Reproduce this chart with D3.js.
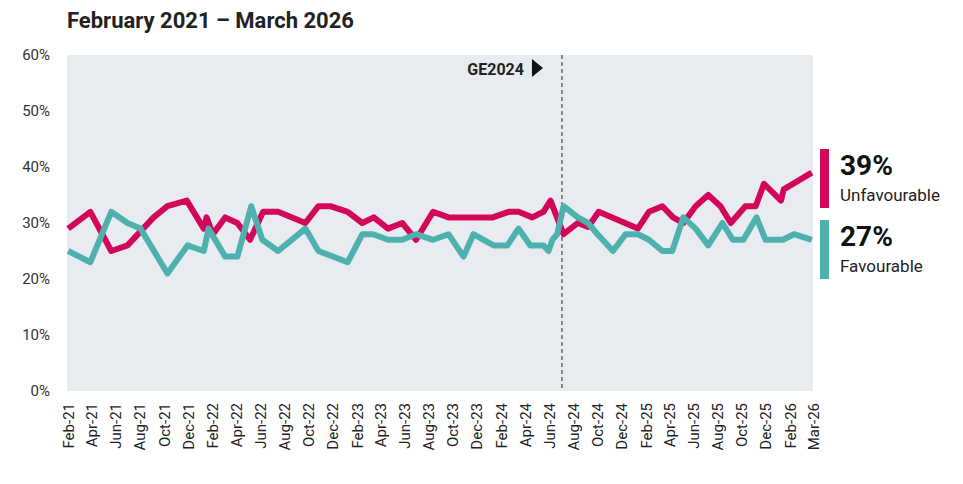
<!DOCTYPE html>
<html>
<head>
<meta charset="utf-8">
<script src="https://cdn.jsdelivr.net/npm/d3@7"></script>
<style>
  body { margin: 0; background: #fff; }
  svg { display: block; font-family: Roboto, "Noto Sans", sans-serif; }
</style>
</head>
<body>
<div id="chart"></div>
<script>
const title = "February 2021 – March 2026"

// poll date, % unfavourable
const unfavourable = [
  ["2021-02-01", 29], ["2021-03-29", 32], ["2021-05-21", 25], ["2021-07-01", 26],
  ["2021-09-05", 31], ["2021-10-10", 33], ["2021-11-28", 34], ["2022-01-10", 29],
  ["2022-01-17", 31], ["2022-02-02", 28], ["2022-03-05", 31], ["2022-04-05", 30],
  ["2022-05-07", 27], ["2022-06-09", 32], ["2022-07-17", 32], ["2022-09-24", 30],
  ["2022-10-27", 33], ["2022-11-26", 33], ["2023-01-09", 32], ["2023-02-15", 30],
  ["2023-03-16", 31], ["2023-04-21", 29], ["2023-05-27", 30], ["2023-07-01", 27],
  ["2023-08-13", 32], ["2023-09-21", 31], ["2024-01-11", 31], ["2024-02-20", 32],
  ["2024-03-16", 32], ["2024-04-20", 31], ["2024-05-18", 32], ["2024-06-05", 34],
  ["2024-07-08", 28], ["2024-08-13", 30], ["2024-09-08", 29.3], ["2024-10-05", 32],
  ["2025-01-12", 29], ["2025-02-09", 32], ["2025-03-15", 33], ["2025-04-11", 31],
  ["2025-05-07", 30], ["2025-06-07", 33], ["2025-07-09", 35], ["2025-08-09", 33],
  ["2025-09-04", 30], ["2025-10-11", 33], ["2025-11-06", 33], ["2025-11-27", 37],
  ["2026-01-09", 34], ["2026-01-16", 36], ["2026-03-28", 39]
]

// poll date, % favourable
const favourable = [
  ["2021-02-01", 25], ["2021-03-29", 23], ["2021-05-21", 32], ["2021-07-01", 30],
  ["2021-08-03", 29], ["2021-10-10", 21], ["2021-11-30", 26], ["2022-01-10", 25],
  ["2022-01-22", 29], ["2022-03-05", 24], ["2022-04-05", 24], ["2022-05-10", 33],
  ["2022-06-07", 27], ["2022-07-17", 25], ["2022-09-24", 29], ["2022-10-27", 25],
  ["2023-01-09", 23], ["2023-02-15", 28], ["2023-03-14", 28], ["2023-04-21", 27],
  ["2023-05-27", 27], ["2023-07-01", 28], ["2023-08-13", 27], ["2023-09-21", 28],
  ["2023-10-29", 24], ["2023-11-23", 28], ["2024-01-13", 26], ["2024-02-17", 26],
  ["2024-03-16", 29], ["2024-04-15", 26], ["2024-05-18", 26], ["2024-05-31", 25],
  ["2024-06-10", 27], ["2024-06-22", 28], ["2024-07-08", 33], ["2024-08-13", 31],
  ["2024-09-08", 30], ["2024-10-02", 28], ["2024-11-10", 25], ["2024-12-12", 28],
  ["2025-01-12", 28], ["2025-02-09", 27], ["2025-03-15", 25], ["2025-04-09", 25],
  ["2025-05-07", 31], ["2025-06-07", 29], ["2025-07-09", 26], ["2025-08-14", 30],
  ["2025-09-09", 27], ["2025-10-06", 27], ["2025-11-08", 31], ["2025-12-01", 27],
  ["2026-01-14", 27], ["2026-02-11", 28], ["2026-03-28", 27]
]

const xTickLabels = [
  "Feb-21", "Apr-21", "Jun-21", "Aug-21", "Oct-21", "Dec-21",
  "Feb-22", "Apr-22", "Jun-22", "Aug-22", "Oct-22", "Dec-22",
  "Feb-23", "Apr-23", "Jun-23", "Aug-23", "Oct-23", "Dec-23",
  "Feb-24", "Apr-24", "Jun-24", "Aug-24", "Oct-24", "Dec-24",
  "Feb-25", "Apr-25", "Jun-25", "Aug-25", "Oct-25", "Dec-25",
  "Feb-26", "Mar-26"
]
const yTicks = [0, 10, 20, 30, 40, 50, 60]

const electionDate = "2024-07-04"
const electionLabel = "GE2024"

const series = [
  {name: "Unfavourable", data: unfavourable, color: "#d30759"},
  {name: "Favourable", data: favourable, color: "#4eb1ae"}
]

const W = 963, H = 484
const margin = {top: 55, right: 150, bottom: 93, left: 67}
const width = W - margin.left - margin.right
const height = H - margin.top - margin.bottom

const parseDate = d3.timeParse("%Y-%m-%d")
const parseTick = d3.timeParse("%b-%y")

const svg = d3.create("svg")
    .attr("width", W)
    .attr("height", H)
    .attr("viewBox", [0, 0, W, H])

d3.select("#chart").append(() => svg.node())

const startDate = parseDate("2021-01-29")
const endDate = parseDate("2026-03-31")

const x = d3.scaleTime()
  .domain([startDate, endDate])
  .range([0, width])

const y = d3.scaleLinear()
  .domain([0, 60])
  .range([height, 0])

svg.append("text")
    .attr("x", margin.left)
    .attr("y", 28)
    .attr("font-size", "22px")
    .attr("font-weight", 700)
    .attr("fill", "#222")
    .text(title)

const g = svg.append("g")
    .attr("transform", `translate(${margin.left},${margin.top})`)

g.append("rect")
    .attr("width", width)
    .attr("height", height)
    .attr("fill", "#e8ebf0")

// y axis
g.append("g")
    .call(d3.axisLeft(y).tickValues(yTicks).tickFormat(d => d + "%").tickSize(0).tickPadding(17))
    .call(a => a.select(".domain").remove())
    .selectAll("text")
      .attr("font-size", "15px")
      .attr("font-family", "Roboto, sans-serif")
      .attr("fill", "#333")

// x axis, last label sits at the end of the axis
const tickDates = xTickLabels.map((l, i) => i === xTickLabels.length - 1 ? endDate : parseTick(l))

g.append("g")
    .attr("transform", `translate(0,${height})`)
    .call(d3.axisBottom(x).tickValues(tickDates).tickFormat((d, i) => xTickLabels[i]).tickSize(0))
    .call(a => a.select(".domain").remove())
    .selectAll("text")
      .attr("transform", "rotate(-90)")
      .style("text-anchor", "end")
      .attr("x", -12)
      .attr("y", 0)
      .attr("dy", "0.35em")
      .attr("font-size", "15px")
      .attr("font-family", "Roboto, sans-serif")
      .attr("fill", "#222")

// election marker
const ge = x(parseDate(electionDate))
g.append("line")
    .attr("x1", ge).attr("x2", ge)
    .attr("y1", 0).attr("y2", height)
    .attr("stroke", "#666")
    .attr("stroke-width", 1.5)
    .attr("stroke-dasharray", "4,3")

g.append("text")
    .attr("x", ge - 38)
    .attr("y", 20)
    .attr("text-anchor", "end")
    .attr("font-size", "16px")
    .attr("font-weight", 700)
    .attr("fill", "#222")
    .text(electionLabel)

g.append("path")
    .attr("d", `M${ge - 30},${4} L${ge - 19},${13} L${ge - 30},${22} Z`)
    .attr("fill", "#111")

const line = d3.line()
  .x(d => x(parseDate(d[0])))
  .y(d => y(d[1]))

g.selectAll(".series")
  .data(series)
  .join("path")
    .attr("class", "series")
    .attr("fill", "none")
    .attr("stroke", d => d.color)
    .attr("stroke-width", 6)
    .attr("stroke-linejoin", "round")
    .attr("d", d => line(d.data))

// legend with latest values
const legend = svg.append("g")
    .attr("transform", `translate(${margin.left + width + 7},149)`)

const item = legend.selectAll("g")
  .data(series)
  .join("g")
    .attr("transform", (d, i) => `translate(0,${i * 71})`)

item.append("rect")
    .attr("width", 9)
    .attr("height", 59)
    .attr("fill", d => d.color)

item.append("text")
    .attr("x", 20)
    .attr("y", 26)
    .attr("font-size", "28px")
    .attr("font-weight", 700)
    .attr("fill", "#111")
    .text(d => Math.round(d.data[d.data.length - 1][1]) + "%")

item.append("text")
    .attr("x", 20)
    .attr("y", 52)
    .attr("font-size", "17px")
    .attr("fill", "#222")
    .text(d => d.name)
</script>
</body>
</html>
